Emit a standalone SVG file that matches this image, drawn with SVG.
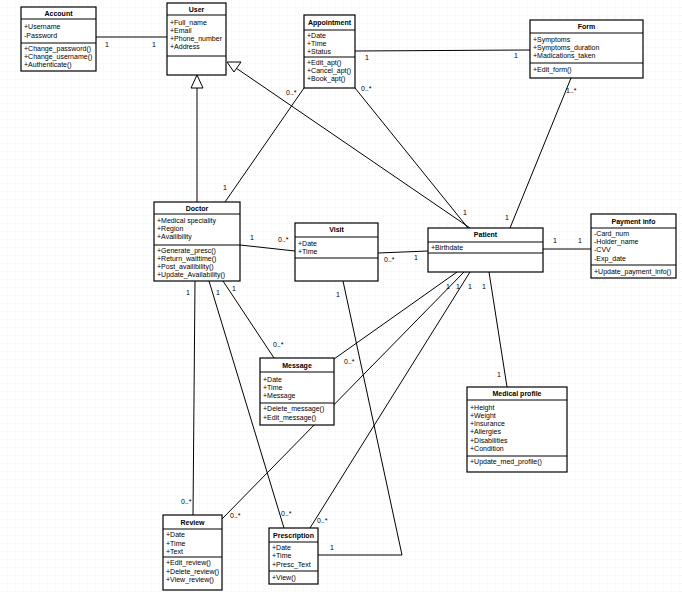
<svg xmlns="http://www.w3.org/2000/svg" width="682" height="592" viewBox="0 0 682 592">
<style>
.b{fill:#fff;stroke:#000;stroke-width:1.2}
.l{stroke:#000;stroke-width:1;fill:none}
text{font-family:"Liberation Sans",Arial,sans-serif;font-size:7px;fill:#000}
.h{font-weight:bold;text-anchor:middle}
</style>
<defs>
<pattern id="g" width="8" height="8" patternUnits="userSpaceOnUse"><path d="M8 0V8H0" fill="none" stroke="#ddd" stroke-width="0.6" stroke-dasharray="1,1"/></pattern>
</defs>
<rect width="682" height="592" fill="#fff"/>
<rect width="682" height="592" fill="url(#g)"/>
<g id="connectors">
<line class="l" x1="96" y1="37" x2="167" y2="37"/>
<line class="l" x1="197" y1="202" x2="197" y2="88"/>
<polygon points="197,75 191,88 203,88" fill="#fff" stroke="#000"/>
<line class="l" x1="470" y1="228" x2="236" y2="68"/>
<polygon points="227,62 241,62 234,72" fill="#fff" stroke="#000"/>
<line class="l" x1="304" y1="88" x2="225" y2="202"/>
<line class="l" x1="355" y1="88" x2="468" y2="228"/>
<line class="l" x1="355" y1="51" x2="530" y2="50"/>
<line class="l" x1="571" y1="78" x2="510" y2="228"/>
<line class="l" x1="240" y1="245" x2="295" y2="251"/>
<line class="l" x1="378" y1="253" x2="428" y2="251"/>
<line class="l" x1="543" y1="249" x2="591" y2="249"/>
<line class="l" x1="489" y1="272" x2="507" y2="387"/>
<line class="l" x1="223" y1="281" x2="274" y2="358"/>
<line class="l" x1="195" y1="281" x2="193" y2="515"/>
<line class="l" x1="209" y1="281" x2="284" y2="528"/>
<polyline class="l" points="343,281 402,555 318,555"/>
<line class="l" x1="457" y1="272" x2="334" y2="359"/>
<line class="l" x1="464" y1="272" x2="222" y2="519"/>
<line class="l" x1="470" y1="272" x2="310" y2="528"/>
</g>
<g id="labels">
<text x="105" y="47">1</text><text x="152" y="47">1</text>
<text x="286" y="95">0..*</text><text x="223" y="190">1</text>
<text x="361" y="91">0..*</text><text x="463" y="215">1</text>
<text x="365" y="60">1</text><text x="514" y="58">1</text>
<text x="566" y="93">1..*</text><text x="505" y="220">1</text>
<text x="250" y="240">1</text><text x="278" y="242">0..*</text>
<text x="384" y="262">0..*</text><text x="414" y="260">1</text>
<text x="553" y="243">1</text><text x="578" y="243">1</text>
<text x="446" y="289">1</text><text x="456" y="289">1</text><text x="468" y="289">1</text><text x="482" y="289">1</text>
<text x="497" y="377">1</text>
<text x="232" y="291">1</text><text x="273" y="347">0..*</text>
<text x="186" y="295">1</text><text x="181" y="504">0..*</text>
<text x="216" y="295">1</text><text x="281" y="516">0..*</text>
<text x="336" y="297">1</text><text x="330" y="550">1</text>
<text x="344" y="364">0..*</text>
<text x="230" y="518">0..*</text>
<text x="317" y="523">0..*</text>
</g>
<g id="account"><rect class="b" x="21" y="7" width="75" height="64"/><line class="l" x1="21" y1="19" x2="96" y2="19"/><line class="l" x1="21" y1="43" x2="96" y2="43"/>
<text class="h" x="58.5" y="16">Account</text><text x="24" y="29">+Username</text><text x="24" y="38">-Password</text>
<text x="24" y="51">+Change_password()</text><text x="24" y="59">+Change_username()</text><text x="24" y="67">+Authenticate()</text></g>
<g id="user"><rect class="b" x="167" y="3" width="59" height="72"/><line class="l" x1="167" y1="15" x2="226" y2="15"/><line class="l" x1="167" y1="56" x2="226" y2="56"/>
<text class="h" x="196.5" y="12">User</text><text x="170" y="25">+Full_name</text><text x="170" y="33">+Email</text><text x="170" y="41">+Phone_number</text><text x="170" y="49">+Address</text></g>
<g id="appointment"><rect class="b" x="304" y="15" width="51" height="73"/><line class="l" x1="304" y1="30" x2="355" y2="30"/><line class="l" x1="304" y1="57" x2="355" y2="57"/>
<text class="h" x="329.5" y="25">Appointment</text><text x="307" y="38">+Date</text><text x="307" y="46">+Time</text><text x="307" y="54">+Status</text>
<text x="307" y="65">+Edit_apt()</text><text x="307" y="73">+Cancel_apt()</text><text x="307" y="81">+Book_apt()</text></g>
<g id="form"><rect class="b" x="530" y="20" width="113" height="58"/><line class="l" x1="530" y1="33" x2="643" y2="33"/><line class="l" x1="530" y1="63" x2="643" y2="63"/>
<text class="h" x="586.5" y="29">Form</text><text x="533" y="42">+Symptoms</text><text x="533" y="50">+Symptoms_duration</text><text x="533" y="58">+Madications_taken</text><text x="533" y="72">+Edit_form()</text></g>
<g id="doctor"><rect class="b" x="154" y="202" width="86" height="79"/><line class="l" x1="154" y1="214" x2="240" y2="214"/><line class="l" x1="154" y1="245" x2="240" y2="245"/>
<text class="h" x="197" y="211">Doctor</text><text x="157" y="223">+Medical speciality</text><text x="157" y="231">+Region</text><text x="157" y="239">+Availibility</text>
<text x="157" y="253">+Generate_presc()</text><text x="157" y="261">+Return_waittime()</text><text x="157" y="269">+Post_availibility()</text><text x="157" y="277">+Update_Availability()</text></g>
<g id="visit"><rect class="b" x="295" y="223" width="83" height="58"/><line class="l" x1="295" y1="237" x2="378" y2="237"/><line class="l" x1="295" y1="258" x2="378" y2="258"/>
<text class="h" x="336.5" y="232">Visit</text><text x="298" y="246">+Date</text><text x="298" y="254">+Time</text></g>
<g id="patient"><rect class="b" x="428" y="228" width="115" height="44"/><line class="l" x1="428" y1="242" x2="543" y2="242"/><line class="l" x1="428" y1="253" x2="543" y2="253"/>
<text class="h" x="485.5" y="237">Patient</text><text x="431" y="250">+Birthdate</text></g>
<g id="payment"><rect class="b" x="591" y="214" width="85" height="64"/><line class="l" x1="591" y1="228" x2="676" y2="228"/><line class="l" x1="591" y1="265" x2="676" y2="265"/>
<text class="h" x="633.5" y="224">Payment info</text><text x="594" y="236">-Card_num</text><text x="594" y="244">-Holder_name</text><text x="594" y="252">-CVV</text><text x="594" y="261">-Exp_date</text><text x="594" y="274">+Update_payment_info()</text></g>
<g id="medical"><rect class="b" x="467" y="387" width="100" height="85"/><line class="l" x1="467" y1="400" x2="567" y2="400"/><line class="l" x1="467" y1="456" x2="567" y2="456"/>
<text class="h" x="517" y="396">Medical profile</text><text x="470" y="410">+Height</text><text x="470" y="418">+Weight</text><text x="470" y="426">+Insurance</text><text x="470" y="434">+Allergies</text><text x="470" y="443">+Disabilities</text><text x="470" y="451">+Condition</text><text x="470" y="464">+Update_med_profile()</text></g>
<g id="message"><rect class="b" x="260" y="358" width="74" height="67"/><line class="l" x1="260" y1="372" x2="334" y2="372"/><line class="l" x1="260" y1="403" x2="334" y2="403"/>
<text class="h" x="297" y="368">Message</text><text x="263" y="382">+Date</text><text x="263" y="390">+Time</text><text x="263" y="398">+Message</text><text x="263" y="411">+Delete_message()</text><text x="263" y="420">+Edit_message()</text></g>
<g id="review"><rect class="b" x="163" y="515" width="59" height="75"/><line class="l" x1="163" y1="529" x2="222" y2="529"/><line class="l" x1="163" y1="557" x2="222" y2="557"/>
<text class="h" x="192.5" y="525">Review</text><text x="166" y="537">+Date</text><text x="166" y="546">+Time</text><text x="166" y="554">+Text</text><text x="166" y="565">+Edit_review()</text><text x="166" y="574">+Delete_review()</text><text x="166" y="582">+View_review()</text></g>
<g id="prescription"><rect class="b" x="269" y="528" width="49" height="56"/><line class="l" x1="269" y1="542" x2="318" y2="542"/><line class="l" x1="269" y1="571" x2="318" y2="571"/>
<text class="h" x="293.5" y="538">Prescription</text><text x="272" y="550">+Date</text><text x="272" y="558">+Time</text><text x="272" y="567">+Presc_Text</text><text x="272" y="580">+View()</text></g>
</svg>
